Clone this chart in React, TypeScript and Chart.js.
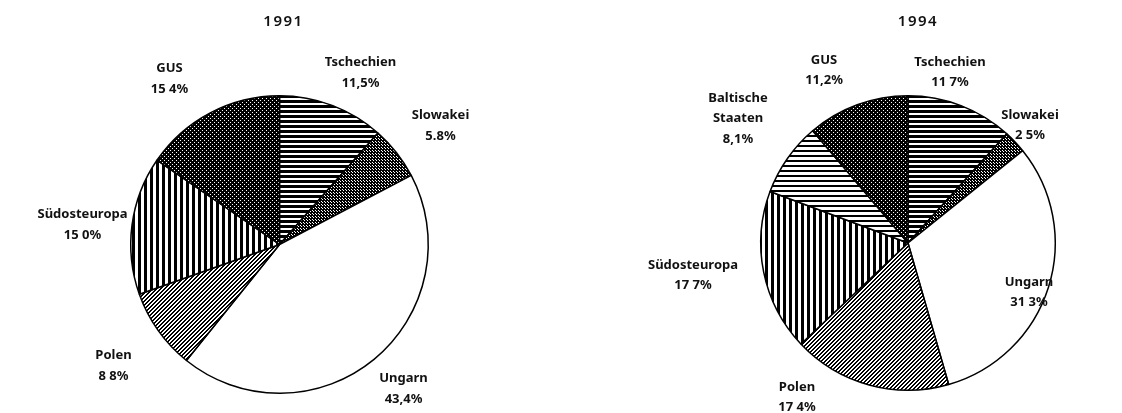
import React, { useEffect, useRef } from "react";
import { Chart, registerables } from "chart.js";

Chart.register(...registerables);

// ---- data ----
const categories1991 = ["Tschechien", "Slowakei", "Ungarn", "Polen", "Südosteuropa", "GUS"];
const values1991 = [11.5, 5.8, 43.4, 8.8, 15.0, 15.4];
const valueLabels1991 = ["11,5%", "5.8%", "43,4%", "8 8%", "15 0%", "15 4%"];

const categories1994 = ["Tschechien", "Slowakei", "Ungarn", "Polen", "Südosteuropa", "Baltische Staaten", "GUS"];
const values1994 = [11.7, 2.5, 31.3, 17.4, 17.7, 8.1, 11.2];
const valueLabels1994 = ["11 7%", "2 5%", "31 3%", "17 4%", "17 7%", "8,1%", "11,2%"];

// ---- layout (label offsets relative to pie centre) ----
const labelOffsets1991 = [
  [81, -182], [161, -129], [124, 134], [-166, 111], [-197, -30], [-110, -176],
];
const labelOffsets1994 = [
  [42, -181], [122, -128], [121, 39], [-111, 144], [-215, 22], [-170, -145], [-84, -183],
];

type PatternKind = "hlinesDense" | "checker" | "white" | "diag" | "vlines" | "dots" | "hlinesLight";

const patterns1991: PatternKind[] = ["hlinesDense", "checker", "white", "diag", "vlines", "dots"];
const patterns1994: PatternKind[] = ["hlinesDense", "checker", "white", "diag", "vlines", "hlinesLight", "dots"];

function makePattern(kind: PatternKind, ctx: CanvasRenderingContext2D): CanvasPattern | string {
  if (kind === "white") return "#ffffff";
  const size = kind === "hlinesDense" || kind === "hlinesLight" ? 5 : kind === "vlines" ? 6 : kind === "checker" ? 3 : 4;
  const c = document.createElement("canvas");
  c.width = size;
  c.height = size;
  const g = c.getContext("2d")!;
  const img = g.createImageData(size, size);
  for (let y = 0; y < size; y++) {
    for (let x = 0; x < size; x++) {
      let black = true;
      switch (kind) {
        case "hlinesDense": black = y < 3; break;
        case "hlinesLight": black = y < 2; break;
        case "vlines": black = x < 3; break;
        case "diag": black = ((x + y) % 4) < 2; break;
        case "checker": black = !((x === 0 && y === 0) || (x === 1 && y === 1)); break;
        case "dots": black = !((x === 0 && y === 0) || (x === 2 && y === 2)); break;
      }
      const i = (y * size + x) * 4;
      const v = black ? 0 : 255;
      img.data[i] = v; img.data[i + 1] = v; img.data[i + 2] = v; img.data[i + 3] = 255;
    }
  }
  g.putImageData(img, 0, 0);
  return ctx.createPattern(c, "repeat")!;
}

const FONT = "700 13px 'Noto Sans', sans-serif";
const TITLE_FONT = "600 15px 'Noto Sans', sans-serif";

function PieBlock(props: {
  title: string;
  categories: string[];
  values: number[];
  valueLabels: string[];
  offsets: number[][];
  patterns: PatternKind[];
  left: number;
  padding: { left: number; right: number; top: number; bottom: number };
  titleDx: number;
}) {
  const ref = useRef<HTMLCanvasElement | null>(null);
  useEffect(() => {
    const canvas = ref.current!;
    const ctx = canvas.getContext("2d")!;
    const bg = props.patterns.map((p) => makePattern(p, ctx));
    const labelPlugin = {
      id: "labels",
      afterDraw(chart: any) {
        const meta = chart.getDatasetMeta(0);
        const arc = meta.data[0];
        if (!arc) return;
        const cx = arc.x, cy = arc.y;
        const c = chart.ctx;
        c.save();
        c.fillStyle = "#111";
        c.textAlign = "center";
        c.textBaseline = "middle";
        c.font = TITLE_FONT;
        (c as any).letterSpacing = "1.5px";
        c.fillText(props.title, cx + props.titleDx, 22);
        (c as any).letterSpacing = "0px";
        c.font = FONT;
        props.categories.forEach((cat, i) => {
          const [dx, dy] = props.offsets[i];
          const lines = cat === "Baltische Staaten" ? ["Baltische", "Staaten"] : [cat];
          lines.push(props.valueLabels[i]);
          lines.forEach((t, j) => {
            c.fillText(t, cx + dx, cy + dy + j * 20.5);
          });
        });
        c.restore();
      },
    };
    const chart = new Chart(canvas, {
      type: "pie",
      data: {
        labels: props.categories,
        datasets: [
          {
            data: props.values,
            backgroundColor: bg as any,
            borderColor: "#000",
            borderWidth: 1.5,
          },
        ],
      },
      options: {
        animation: false,
        responsive: false,
        layout: { padding: props.padding },
        plugins: { legend: { display: false }, tooltip: { enabled: false }, title: { display: false } },
      },
      plugins: [labelPlugin],
    });
    return () => chart.destroy();
  }, []);
  return (
    <canvas
      ref={ref}
      width={561}
      height={413}
      style={{ position: "absolute", left: props.left, top: 0, width: 561, height: 413 }}
    />
  );
}

export default function App() {
  useEffect(() => {
    document.body.style.margin = "0";
    document.body.style.background = "#fff";
  }, []);
  return (
    <div style={{ position: "relative", width: 1122, height: 413, background: "#fff" }}>
      <PieBlock
        title="1991"
        categories={categories1991}
        values={values1991}
        valueLabels={valueLabels1991}
        offsets={labelOffsets1991}
        patterns={patterns1991}
        left={0}
        padding={{ left: 130, right: 132, top: 95, bottom: 19 }}
        titleDx={4}
      />
      <PieBlock
        title="1994"
        categories={categories1994}
        values={values1994}
        valueLabels={valueLabels1994}
        offsets={labelOffsets1994}
        patterns={patterns1994}
        left={561}
        padding={{ left: 198, right: 65, top: 95, bottom: 22 }}
        titleDx={10}
      />
    </div>
  );
}
